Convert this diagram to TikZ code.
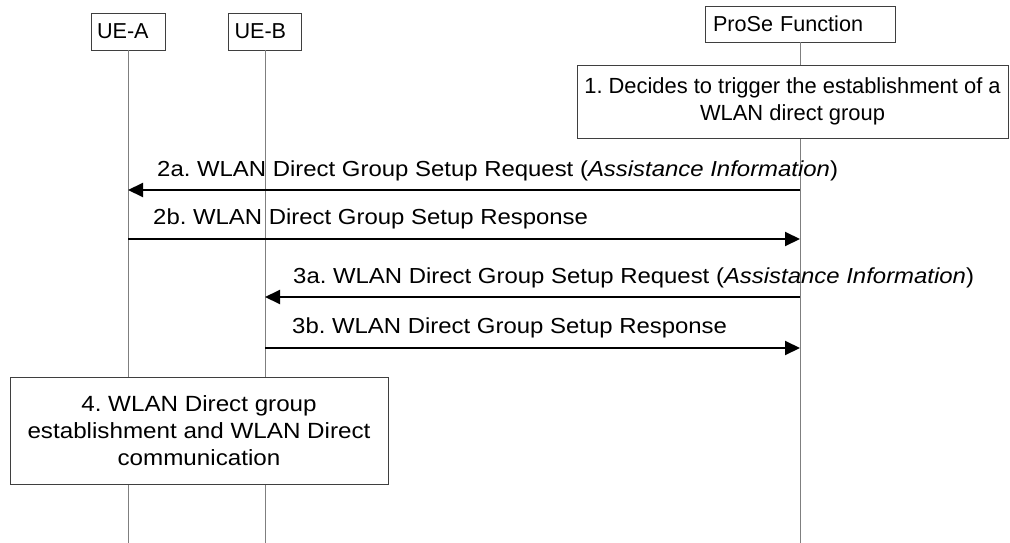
\documentclass[tikz,border=0pt]{standalone}
\usepackage{fontspec}
\setmainfont{Liberation Sans}
\newfontfamily\widefont[FakeStretch=1.1]{Liberation Sans}
\usetikzlibrary{positioning,arrows.meta,calc}
\definecolor{life}{HTML}{7F7F7F}
\definecolor{frame}{HTML}{3F3F3F}
\frenchspacing
\tikzset{
  head/.style   = {draw=frame, fill=white, line width=0.9pt, inner ysep=0pt,
                   inner xsep=6pt, align=left, minimum height=37pt,
                   font=\fontsize{21.6}{24}\selectfont},
  act/.style    = {draw=frame, fill=white, line width=0.9pt, inner sep=0pt,
                   align=center},
  life/.style   = {draw=life, line width=1pt},
  msg/.style    = {-{Triangle[length=15pt,width=14pt]}, draw=black, line width=2pt},
  lbl/.style    = {anchor=base west, inner sep=0pt, font=\widefont\fontsize{21.75}{26}\selectfont},
}
\newcommand{\msgrow}[2]{\coordinate (#1) at (0,#2);}

\begin{document}
\begin{tikzpicture}[x=1pt,y=-1pt]
\useasboundingbox (0,0) rectangle (1010,543);

% ------------------------------------------------------------------ entities
\node[head, text width=62pt]  (ueA)   at (128,31.5) {UE-A};
\node[head, text width=61pt]  (ueB)   at (265,31.5) {UE-B};
\node[head, text width=174pt, inner xsep=8pt, minimum height=36pt] (prose) at (800,24) {ProSe Function};

\coordinate (endA) at (128,543);
\coordinate (endB) at (265,543);
\coordinate (endP) at (800,543);
\draw[life] (ueA.south) -- (endA);
\draw[life] (ueB.south) -- (endB);
\draw[life] (prose.south) -- (endP);

% ------------------------------------------------------------------ step 1
\node[act, minimum width=431pt, minimum height=73pt,
      font=\fontsize{21.9}{26.5}\selectfont] (s1) at (792.5,101.5)
  {1. Decides to trigger the establishment of a\\WLAN direct group};

% ------------------------------------------------------------------ messages
\msgrow{m2a}{190}
\msgrow{m2b}{239}
\msgrow{m3a}{297}
\msgrow{m3b}{348}

\draw[msg] (prose |- m2a) -- (ueA |- m2a);
\draw[msg] (ueA |- m2b) -- (prose |- m2b);
\draw[msg] (prose |- m3a) -- (ueB |- m3a);
\draw[msg] (ueB |- m3b) -- (prose |- m3b);

\node[lbl] (l2a) at (157,176) {2a. WLAN Direct Group Setup Request (\textit{Assistance Information})};
\node[lbl] (l2b) at (153,224) {2b. WLAN Direct Group Setup Response};
\node[lbl] (l3a) at (293,283) {3a. WLAN Direct Group Setup Request (\textit{Assistance Information})};
\node[lbl] (l3b) at (292,333) {3b. WLAN Direct Group Setup Response};

% ------------------------------------------------------------------ step 4
\node[act, minimum width=378pt, minimum height=107pt,
      font=\widefont\fontsize{22}{27}\selectfont] (s4) at (199,430.5)
  {4. WLAN Direct group\\establishment and WLAN Direct\\communication};

\end{tikzpicture}
\end{document}
